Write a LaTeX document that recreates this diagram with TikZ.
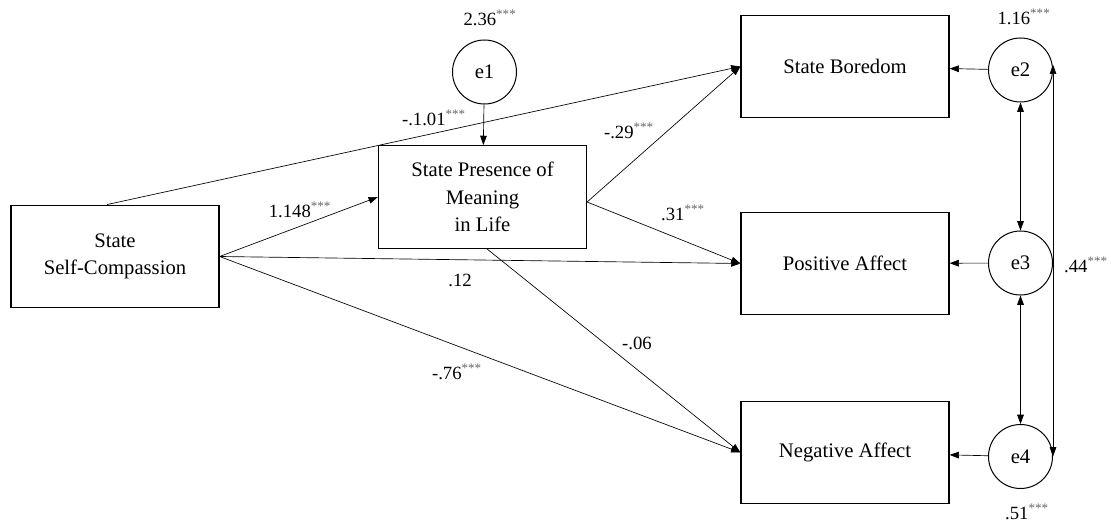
\documentclass[tikz,border=0pt]{standalone}
\usepackage{fontspec}
\setmainfont{LiberationSerif-Regular.ttf}
\usetikzlibrary{arrows.meta}

\newcommand{\sigstar}{\textsuperscript{\color{black!60}***}}

\tikzset{every picture/.style={line width=0.75pt}}
\tikzset{
  varbox/.style={draw, line width=0.9pt, minimum width=156pt, minimum height=77pt,
    align=center, font=\fontsize{15.5}{20.5}\selectfont},
  errcirc/.style={draw, circle, minimum size=48pt, inner sep=0pt,
    font=\fontsize{15.5}{18}\selectfont},
  coef/.style={inner sep=0.75pt, font=\fontsize{14}{16}\selectfont},
  path/.style={line width=0.5pt, -{Triangle[length=7pt,width=5pt]}},
  dpath/.style={line width=0.5pt, {Triangle[length=7pt,width=5pt]}-{Triangle[length=7pt,width=5pt]}}
}

\begin{document}
\begin{tikzpicture}[x=0.75pt,y=0.75pt,yscale=-1,xscale=1]
    \useasboundingbox (0,0) rectangle (1111,524);

    % Observed variables
    \node[varbox] (ssc) at (115,256.5) {State\\Self-Compassion};
    \node[varbox] (spml) at (482.5,197) {State Presence of\\Meaning\\in Life};
    \node[varbox] (sb) at (845,66.5) {State Boredom};
    \node[varbox] (pa) at (845,263.5) {Positive Affect};
    \node[varbox] (na) at (845,452.5) {Negative Affect};

    % Error terms
    \node[errcirc] (e1) at (484.5,72) {e1};
    \node[errcirc] (e2) at (1020.5,70) {e2};
    \node[errcirc] (e3) at (1020.5,263) {e3};
    \node[errcirc] (e4) at (1020.5,456.5) {e4};

    % Paths
    \draw[path] ([xshift=-6pt]ssc.north) -- (sb.west);
    \draw[path] (ssc.east) -- (spml.west);
    \draw[path] (ssc.east) -- (pa.west);
    \draw[path] (ssc.east) -- (na.west);
    \draw[path] ([yshift=3.75pt]spml.east) -- (sb.west);
    \draw[path] ([yshift=3.75pt]spml.east) -- (pa.west);
    \draw[path] ([xshift=3.4pt]spml.south) -- (na.west);
    \draw[path] (e1) -- (spml);
    \draw[path] (e2) -- (sb);
    \draw[path] (e3) -- (pa);
    \draw[path] (e4) -- (na);

    % Covariances
    \draw[dpath] (e2) -- (e3);
    \draw[dpath] (e3) -- (e4);
    \draw[dpath] ([yshift=-4pt]e2.east) -- (e4.east);

    % Text Node
    \node[coef] (v1) at (490,18) {2.36\sigstar};
    \node[coef] (v2) at (1024,17) {1.16\sigstar};
    \node[coef] (v4) at (1027,512) {.51\sigstar};
    \node[coef] (c34) at (1086,265) {.44\sigstar};
    \node[coef] (b1) at (434,118) {-.1.01\sigstar};
    \node[coef] (b2) at (300,210) {1.148\sigstar};
    \node[coef] (b3) at (460,280) {.12};
    \node[coef] (b4) at (457,372) {-.76\sigstar};
    \node[coef] (b5) at (629,131) {-.29\sigstar};
    \node[coef] (b6) at (683,213) {.31\sigstar};
    \node[coef] (b7) at (637,343) {-.06};

\end{tikzpicture}
\end{document}
